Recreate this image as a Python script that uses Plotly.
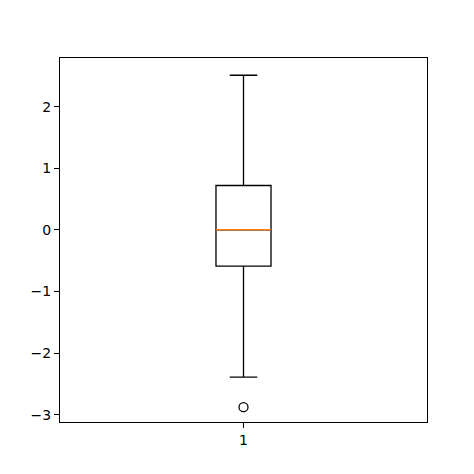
import plotly.graph_objects as go

positions = [1]
q1 = [-0.59]
median = [0.0]
q3 = [0.72]
lower_whisker = [-2.39]
upper_whisker = [2.51]
outliers = [-2.88]
box_width = 0.15

fig = go.Figure()
fig.add_trace(go.Box(x=positions, q1=q1, median=median, q3=q3,
                     lowerfence=lower_whisker, upperfence=upper_whisker,
                     width=box_width, whiskerwidth=0.5, boxpoints=False,
                     fillcolor="rgba(0,0,0,0)", line=dict(color="black", width=1.3),
                     showlegend=False, hoverinfo="skip"))
fig.add_trace(go.Scatter(x=[positions[0] - box_width / 2, positions[0] + box_width / 2],
                         y=[median[0], median[0]], mode="lines",
                         line=dict(color="#ff7f0e", width=1.5), showlegend=False))
fig.add_trace(go.Scatter(x=positions * len(outliers), y=outliers, mode="markers",
                         marker=dict(symbol="circle-open", size=9, color="black",
                                     line=dict(width=1.3)), showlegend=False))

axis_common = dict(showgrid=False, zeroline=False, ticks="outside", ticklen=5,
                   tickwidth=1, tickcolor="black", showline=True, linecolor="black",
                   linewidth=1, mirror=True, tickfont=dict(size=14, color="black"))
fig.update_xaxes(range=[0.5, 1.5], tickvals=positions, ticktext=["1"], **axis_common)
fig.update_yaxes(range=[-3.12, 2.79], tickvals=[-3, -2, -1, 0, 1, 2],
                 ticktext=["\u22123", "\u22122", "\u22121", "0", "1", "2"], **axis_common)
fig.update_layout(width=474, height=474, margin=dict(l=52, r=55, t=50, b=60),
                  plot_bgcolor="white", paper_bgcolor="white",
                  font=dict(family="DejaVu Sans"))
fig.write_html("out.html")
